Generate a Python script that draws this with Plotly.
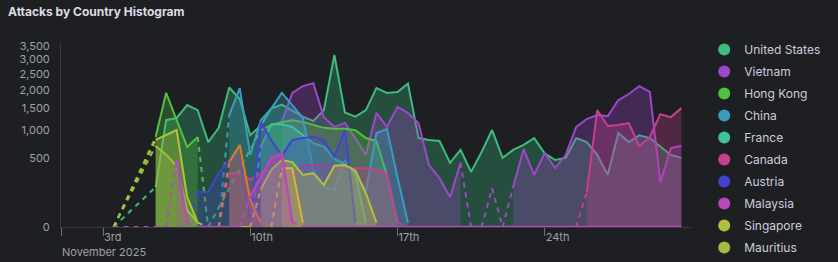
import math
import pandas as pd
import plotly.graph_objects as go

N = None

# 12-hour buckets, 3 Nov 2025 12:00 -> 30 Nov 2025 12:00
times = pd.date_range("2025-11-03 12:00", periods=55, freq="12h")

united_states = [0, N, N, N, 170, 1220, 1270, 1590, 1460, 770, 1050, 2080, 1750, 900, 1100,
                 1500, 1600, 1450, 1300, 1200, 1460, 3160, 1400, 1300, 1460, 2060, 1920, 1950, 2200, 845,
                 810, 790, 440, 635, 325, 600, 1005, 510, 635, 720, 845, 580, 480, 510, 845,
                 770, 555, 290, 945, 770, 900, 845, 685, 555, 510]
vietnam = [N] * 16 + [1180, 1920, 2120, 2210, 1290, 1070, 1155, 845, 555, 1390, 1070, 1540, 1390, 1155,
                      410, 255, 95, 440, 0, 0, 160, 0, 170, 650, 290, 585, 370, 555, 1070,
                      1245, 1340, 1315, 1720, 1890, 2120, 1950, 215, 665, 700]
hong_kong = [0, N, N, N, 865, 1920, 1220, 685, 865, 0, N, N, N, N, 1000,
             1110, 1180, 1220, 1180, 1110, 1050, 1030, 1030, 1000, 845, 790, 290, 2] + [N] * 27
china = [N] * 10 + [0, 1340, 2060, 555, 1220, 1500, 1920, 1590, 1270, 350, 170, 150, 480, 300, 140,
                    945, 1025, 265, 2] + [N] * 26
france = [N] * 13 + [0, 685, 1130, 1130, 1070, 905, 750, 690, 500, 420, 300, 2] + [N] * 30
canada = [N] * 10 + [0, 310, 310, 240, 300, 450, 520, 280, 400, 410, 410, 400, 360, 370, 370,
                     350, 300, 2] + [0] * 17 + [130, 1460, 1090, 1110, 1155, 700, 865, 1360, 1290, 1510]
austria = [N] * 7 + [0, 130, 130, 310, 480, 510, 2, 1180, 810, 540, 810, 845, 865, 810, 520, 1005, 2] + [N] * 31
malaysia = [0, N, N, N, N, 0, 480, 2, 0, 0, 0, 0, 0, 100, 270, 510, 580, 2] + [0] * 37
singapore = [0, N, N, N, 810, 905, 1005, 95, 2, 0, 0, 0, 0, 0, 150, 350, 480, 450, 290, 310,
             190, 400, 410, 340, 120, 2] + [N] * 29
mauritius = [0, N, N, N, 700, 560, 400, 30, 2] + [N] * 46
other_a = [N] * 10 + [0, 450, 720, 78, 2] + [N] * 40
other_b = [N] * 15 + [0, 370, 370, 2] + [N] * 36

series = [
    ("United States", united_states, "#3dbd7d"),
    ("Vietnam", vietnam, "#9d47c9"),
    ("Hong Kong", hong_kong, "#52c03f"),
    ("China", china, "#3a9dc0"),
    ("France", france, "#3cc39a"),
    ("Canada", canada, "#c93e8f"),
    ("Austria", austria, "#4344cc"),
    ("Malaysia", malaysia, "#b948b8"),
    ("Singapore", singapore, "#b2c13a"),
    ("Mauritius", mauritius, "#9fbd3e"),
]
extras = [("Other A", other_a, "#e07a2a"), ("Other B", other_b, "#e0b13a")]


def rgba(hexc, a):
    h = hexc.lstrip("#")
    return "rgba(%d,%d,%d,%.2f)" % (int(h[0:2], 16), int(h[2:4], 16), int(h[4:6], 16), a)


def split(vals):
    pts = [(i, v) for i, v in enumerate(vals) if v is not None]
    runs, dashed = [], []
    cur = [pts[0]] if pts else []
    for (i, v), (j, w) in zip(pts, pts[1:]):
        if j - i > 1 or ((v == 0) != (w == 0)):
            dashed.append(((i, v), (j, w)))
            runs.append(cur)
            cur = [(j, w)]
        else:
            cur.append((j, w))
    if cur:
        runs.append(cur)
    return [r for r in runs if len(r) > 1], dashed


fig = go.Figure()

draw_order = [s for s in series if s[0] != "Malaysia"] + extras + [s for s in series if s[0] == "Malaysia"]
for name, vals, col in draw_order:
    runs, dashed = split(vals)
    for r in runs:
        fig.add_trace(go.Scatter(
            x=[times[i] for i, _ in r], y=[math.sqrt(v) for _, v in r],
            mode="lines", line=dict(color=col, width=2.4 if name == "Malaysia" else 2),
            fill="tozeroy", fillcolor=rgba(col, 0.3), name=name, showlegend=False,
            hoverinfo="skip"))
    dx, dy = [], []
    for (i, v), (j, w) in dashed:
        dx += [times[i], times[j], None]
        dy += [math.sqrt(v), math.sqrt(w), None]
    if dx:
        fig.add_trace(go.Scatter(x=dx, y=dy, mode="lines",
                                 line=dict(color=col, width=2, dash="5px,5px"),
                                 showlegend=False, hoverinfo="skip", name=name))

for k, (name, vals, col) in enumerate(series):
    fig.add_trace(go.Scatter(x=[None], y=[None], mode="markers", name=name,
                             marker=dict(color=col, size=10, symbol="circle"),
                             legendrank=k + 1, legendgroup=name))

ytick_vals = [0, 500, 1000, 1500, 2000, 2500, 3000, 3500]
xtick_vals = ["2025-11-01", "2025-11-03", "2025-11-10", "2025-11-17", "2025-11-24"]
xtick_text = ["<br>November 2025", "3rd", "10th", "17th", "24th"]

fig.update_layout(
    width=838, height=262,
    margin=dict(l=61, r=131, t=44, b=35),
    paper_bgcolor="#1e1f23", plot_bgcolor="#1e1f23",
    font=dict(family="Inter", color="#9fa1a6", size=11),
    title=dict(text="Attacks by Country Histogram", x=8 / 838, xanchor="left",
               xref="container", y=1 - 12 / 262, yanchor="middle", yref="container",
               font=dict(family="Inter", size=12, color="#dcdde0", weight="bold")),
    showlegend=True,
    legend=dict(x=1.021, xanchor="left", y=1.024, yanchor="top",
                font=dict(family="Inter", size=12, color="#ccccdc"),
                bgcolor="rgba(0,0,0,0)", tracegroupgap=3, itemsizing="constant",
                maxheight=400),
    hovermode=False,
)
fig.update_xaxes(range=["2025-11-01 00:00", "2025-11-30 23:00"], showgrid=False, zeroline=False,
                 showline=True, linecolor="#3a3b40", linewidth=1, automargin=False, tickangle=0,
                 tickvals=xtick_vals, ticktext=xtick_text, ticks="outside", ticklen=8,
                 tickcolor="#6c6e73", ticklabelposition="outside right",
                 tickfont=dict(size=11, color="#9fa1a6"))
fig.update_yaxes(range=[0, 59.82], showgrid=False, zeroline=False, automargin=False,
                 showline=True, linecolor="#3a3b40", linewidth=1,
                 tickvals=[math.sqrt(v) for v in ytick_vals],
                 ticktext=[f"{v:,}" for v in ytick_vals], ticks="", ticklabelstandoff=8,
                 tickfont=dict(size=11, color="#9fa1a6"))

fig.write_html("out.html")
